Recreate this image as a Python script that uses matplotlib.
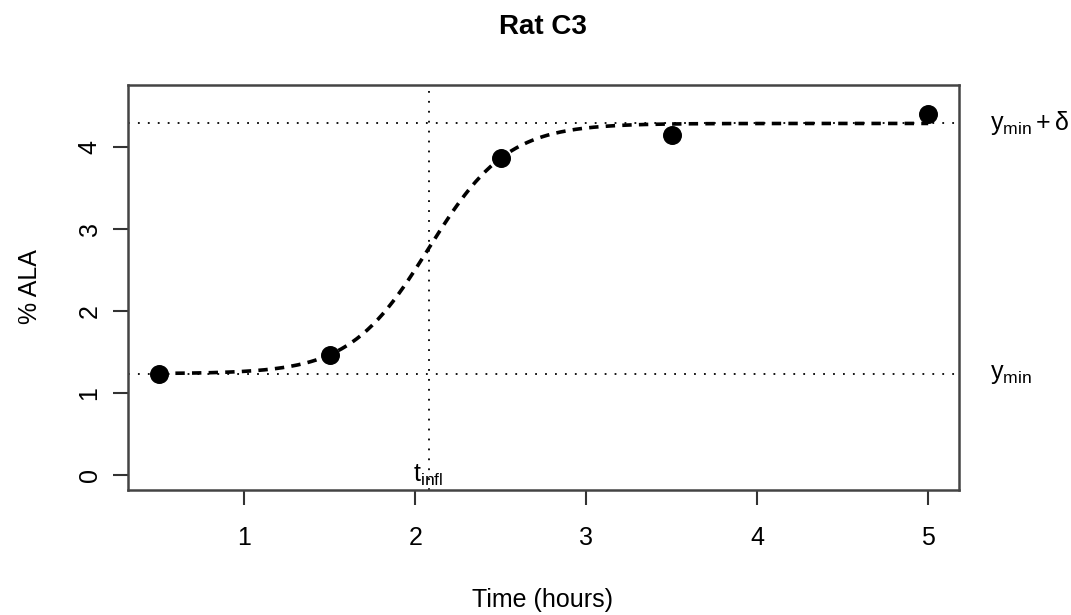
import numpy as np
import matplotlib
matplotlib.use("Agg")
import matplotlib.pyplot as plt

plt.rcParams['font.family'] = ['Liberation Sans', 'DejaVu Sans']
plt.rcParams['mathtext.fontset'] = 'custom'
plt.rcParams['mathtext.rm'] = 'Liberation Sans'
plt.rcParams['mathtext.it'] = 'Liberation Sans'

# observed data (Rat C3)
time_h = [0.5, 1.5, 2.5, 3.5, 5.0]
pct_ala = [1.236, 1.463, 3.86, 4.145, 4.40]

# fitted logistic parameters
y_min = 1.236
delta = 3.046
t_infl = 2.078
slope = 4.33

x_ticks = [1, 2, 3, 4, 5]
y_ticks = [0, 1, 2, 3, 4]

fig = plt.figure(figsize=(10.71, 6.15), dpi=100)
ax = fig.add_axes([128 / 1071, 1 - 490 / 615, (959 - 128) / 1071, (490 - 85) / 615])

# fitted curve
tt = np.linspace(min(time_h), max(time_h), 300)
fit = y_min + delta / (1 + np.exp(-slope * (tt - t_infl)))
ax.plot(tt, fit, color='black', lw=2.6, ls=(0, (2.6, 2.0)), zorder=3)

ax.scatter(time_h, pct_ala, s=160, color='black', zorder=4)

# reference lines
ax.axhline(y_min, color='black', lw=1.3, ls=(0, (1, 4.5)), zorder=2)
ax.axhline(y_min + delta, color='black', lw=1.3, ls=(0, (1, 4.5)), zorder=2)
ax.axvline(t_infl, color='black', lw=1.3, ls=(0, (1, 4.5)), zorder=2)

ax.text(t_infl, 0.0, r'$\mathregular{t_{infl}}$', ha='center', va='center', fontsize=18)
ax.text(1.037, y_min, r'$\mathregular{y_{min}}$', transform=ax.get_yaxis_transform(),
        ha='left', va='center', fontsize=18)
ax.text(1.037, y_min + delta, r'$\mathregular{y_{min} + δ}$', transform=ax.get_yaxis_transform(),
        ha='left', va='center', fontsize=18)

ax.set_xlim(0.32, 5.18)
ax.set_ylim(-0.18, 4.75)
ax.set_xticks(x_ticks)
ax.set_yticks(y_ticks)
ax.tick_params(axis='both', direction='out', length=11, width=1.5, labelsize=18, color='#333333')
ax.tick_params(axis='x', pad=15)
ax.tick_params(axis='y', pad=8)
for lab in ax.get_yticklabels():
    lab.set_rotation(90)
    lab.set_va('center')
for sp in ax.spines.values():
    sp.set_linewidth(1.8)
    sp.set_color('#444444')

fig.text(543 / 1071, 1 - 600 / 615, 'Time (hours)', ha='center', va='center', fontsize=18)
fig.text(30 / 1071, 1 - 287 / 615, '% ALA', ha='center', va='center', rotation=90, fontsize=18)
fig.text(543 / 1071, 1 - 27 / 615, 'Rat C3', ha='center', va='center',
         fontsize=20, fontweight='bold')

fig.savefig('out.png', dpi=100, facecolor='white')
